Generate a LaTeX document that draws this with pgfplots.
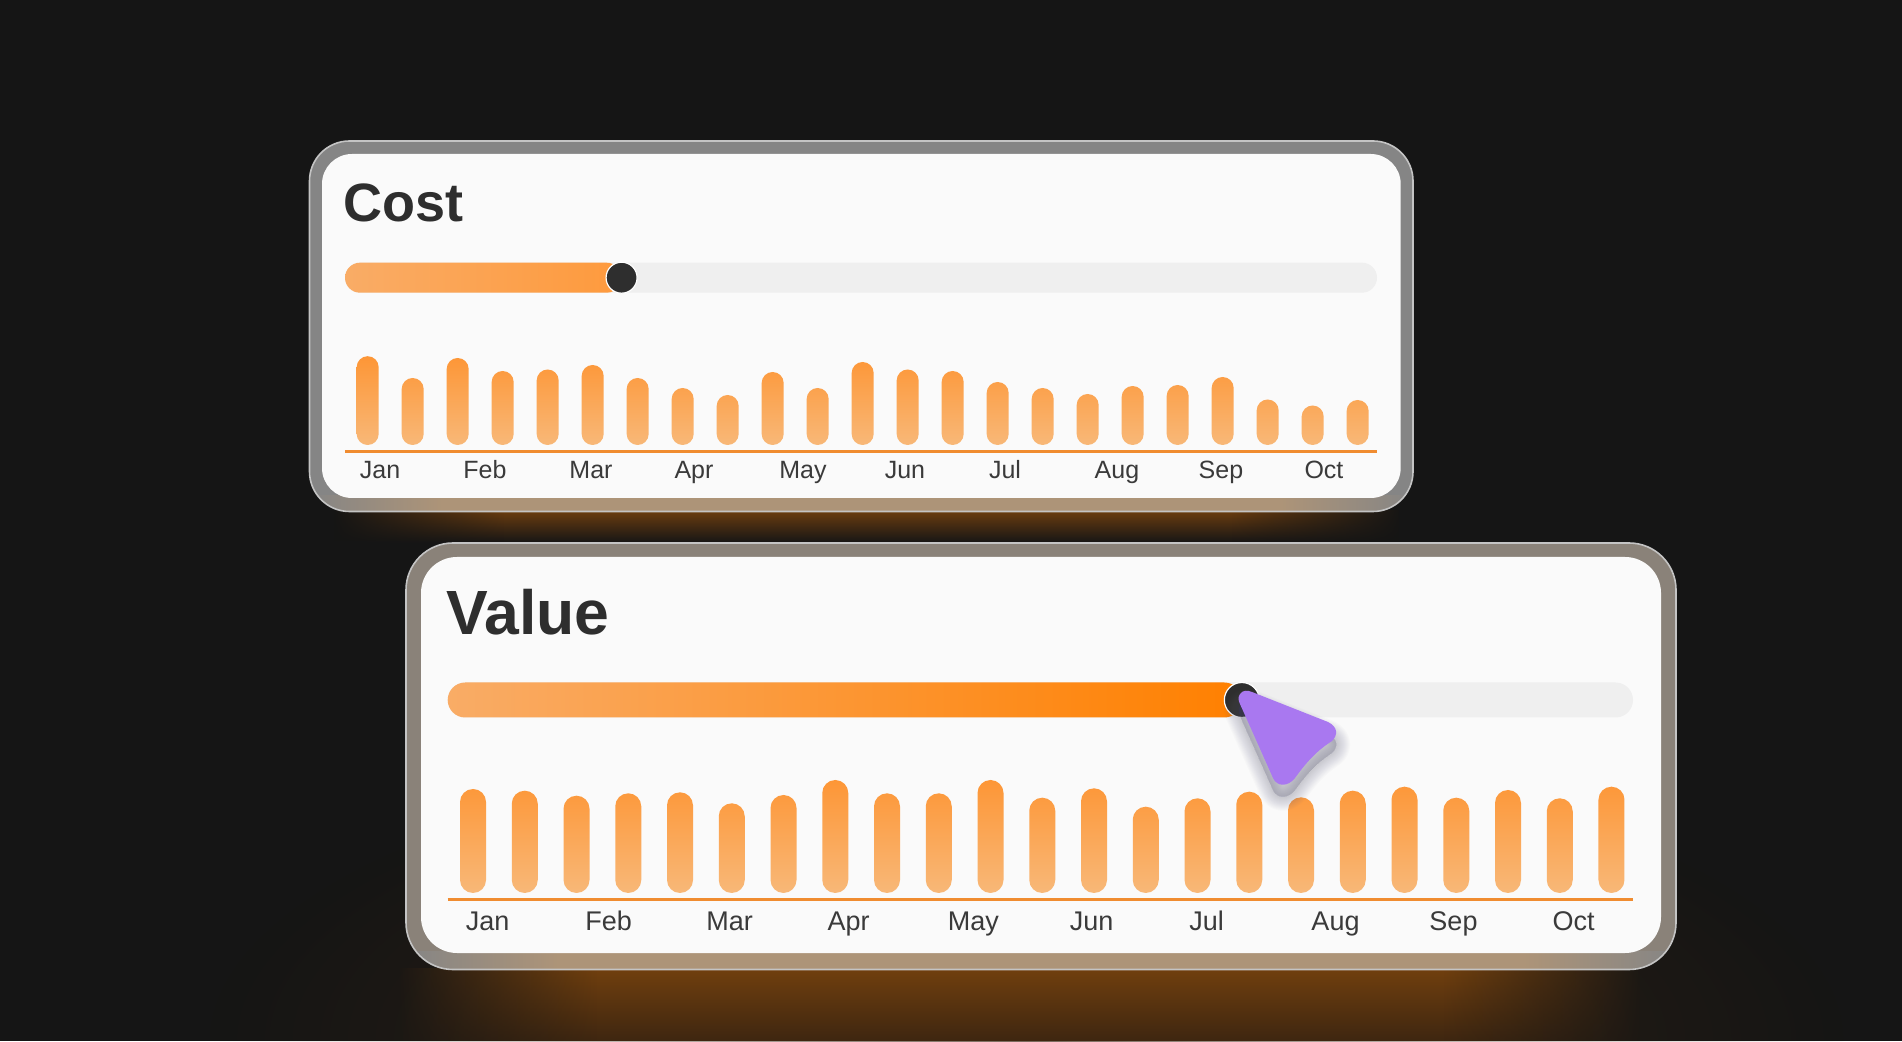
\documentclass[border=0pt]{standalone}
\usepackage{pgfplots}
\usepackage{pgfplotstable}
\usepackage{fontspec}
\setmainfont{Liberation Sans}
\pgfplotsset{compat=1.18}
\usetikzlibrary{fadings}
\definecolor{bg}{HTML}{151515}
\definecolor{band}{HTML}{858585}
\definecolor{rim}{HTML}{C4C4C4}
\definecolor{cardw}{HTML}{FAFAFA}
\definecolor{ink}{HTML}{2E2E2E}
\definecolor{tickink}{HTML}{3A3A3A}
\definecolor{rule}{HTML}{F08C30}
\definecolor{track}{HTML}{EFEFEF}
\definecolor{bartop}{HTML}{FD9636}
\definecolor{barbot}{HTML}{F8B878}
\definecolor{sliderleft}{HTML}{F9AC66}
\definecolor{cursor}{HTML}{A978F0}
\definecolor{glowA}{HTML}{6A3C0F}
\definecolor{glowB}{HTML}{703F0E}
\definecolor{glowC}{HTML}{3E2610}
\definecolor{glowD}{HTML}{4A2D14}
\definecolor{tan}{HTML}{AD9478}
\definecolor{topband}{HTML}{8A8279}
\definecolor{costend}{HTML}{FE9A3D}
\definecolor{valmid}{HTML}{FD9434}
\definecolor{valend}{HTML}{FF8000}
\definecolor{shadowc}{HTML}{60607A}
\pgfdeclarehorizontalshading{plateaushade}{100bp}{color(0bp)=(pgftransparent!100); color(25bp)=(pgftransparent!100); color(33bp)=(pgftransparent!0); color(67bp)=(pgftransparent!0); color(75bp)=(pgftransparent!100); color(100bp)=(pgftransparent!100)}
\pgfdeclarefading{plateau}{\pgfuseshading{plateaushade}}
\pgfdeclarehorizontalshading{bandshade}{100bp}{color(0bp)=(band); color(25bp)=(band); color(31bp)=(tan); color(69bp)=(tan); color(75bp)=(band); color(100bp)=(band)}
\tikzfading[name=softglow, inner color=transparent!30, outer color=transparent!100]
\pgfplotstableread{
i h
0 88.8
1 67
2 87
3 74
4 75.5
5 80
6 67
7 57
8 50
9 73
10 57
11 83
12 75.5
13 74
14 63
15 57
16 51
17 59
18 60
19 68
20 45.5
21 39.5
22 45
}\costdata
\pgfplotstableread{
i h
0 104
1 102.3
2 97.3
3 99.7
4 100.7
5 89.7
6 98
7 113
8 99.7
9 99.7
10 113
11 95.3
12 104.7
13 86.3
14 94.7
15 101.3
16 95.7
17 102.3
18 106.3
19 95.3
20 103
21 94.7
22 106.3
}\valuedata
\pgfplotsset{
  baraxis/.style={
    scale only axis, clip=false,
    axis y line=none, axis x line=bottom,
    x axis line style={-, draw=rule, line width=3.6pt},
    xtick style={draw=none}, major tick length=0pt,
    ymin=-6.7, ymax=130,
    height=136.7pt,
  },
  slideraxis/.style={
    scale only axis, clip=false, hide axis,
    xmin=0, xmax=100, ymin=-1, ymax=1,
    width=#1,
  },
}
\begin{document}
\begin{tikzpicture}[x=1pt,y=1pt]
\useasboundingbox (0,0) rectangle (1902,1041);
\fill[bg] (0,0) rectangle (1902,1041);
% glows
\fill[glowD!80!bg, path fading=softglow] (1030,0) ellipse (820 and 300);
\shade[top color=glowB, bottom color=glowC, path fading=plateau, fit fading=true] (400,0) rectangle (1640,72);
\shade[top color=glowA, bottom color=bg, path fading=plateau, fit fading=true] (335,498) rectangle (1400,530);
% Cost card
\fill[band, rounded corners=40pt] (309.5,529.5) rectangle (1413,900);
\begin{scope}
\clip[rounded corners=40pt] (309.5,529.5) rectangle (1413,900);
\shade[shading=bandshade] (309.5,529.5) rectangle (1413,545);
\end{scope}
\draw[rim, line width=1.6pt, rounded corners=40pt] (309.5,529.5) rectangle (1413,900);
\fill[cardw, rounded corners=30pt] (322,543) rectangle (1400.7,887);
% Value card
\fill[topband, rounded corners=47pt] (406,71.5) rectangle (1676,498);
\begin{scope}
\clip[rounded corners=47pt] (406,71.5) rectangle (1676,498);
\shade[shading=bandshade] (406,71.5) rectangle (1676,90);
\end{scope}
\draw[rim, line width=1.6pt, rounded corners=47pt] (406,71.5) rectangle (1676,498);
\fill[cardw, rounded corners=36pt] (421,88) rectangle (1661,484);
% titles
\node[anchor=base west, inner sep=0pt, text=ink, font=\fontsize{54}{60}\selectfont\bfseries] at (343,819.3) {Cost};
\node[anchor=base west, inner sep=0pt, text=ink, font=\fontsize{62.5}{66}\selectfont\bfseries] at (446,406) {Value};

% Cost slider
\begin{axis}[slideraxis=1032pt, at={(345pt,748.3pt)}, anchor=south west, height=30pt]
\addplot[xbar, bar width=30pt, bar shift=0pt, draw=none, fill=track, rounded corners=15pt] coordinates {(100,0)};
\addplot[xbar, bar width=30pt, bar shift=0pt, draw=none, shade, left color=sliderleft, right color=costend, rounded corners=15pt] coordinates {(26.8,0)};
\addplot[only marks, mark=*, mark size=15.5pt, mark options={fill=ink, draw=white, line width=1.2pt}] coordinates {(26.8,0)};
\end{axis}
% Cost bars
\begin{axis}[baraxis, at={(345pt,589.3pt)}, anchor=south west, width=1032pt,
  xmin=-0.504, xmax=22.43,
  xtick={0.274,2.607,4.962,7.251,9.673,11.94,14.162,16.651,18.962,21.251},
  xticklabels={Jan,Feb,Mar,Apr,May,Jun,Jul,Aug,Sep,Oct},
  x tick label style={anchor=base, yshift=-26.6pt, text=tickink, font=\fontsize{25}{28}\selectfont}]
\addplot[ybar, bar width=22pt, bar shift=0pt, draw=none, shade, top color=bartop, bottom color=barbot, rounded corners=11pt] table[x=i,y=h] {\costdata};
\end{axis}

% Value slider
\begin{axis}[slideraxis=1185.3pt, at={(447.7pt,323.5pt)}, anchor=south west, height=35pt]
\addplot[xbar, bar width=35pt, bar shift=0pt, draw=none, fill=track, rounded corners=17.5pt] coordinates {(100,0)};
\addplot[xbar, bar width=35pt, bar shift=0pt, draw=none, shade, left color=sliderleft, middle color=valmid, right color=valend, rounded corners=17.5pt] coordinates {(67,0)};
\addplot[only marks, mark=*, mark size=17.5pt, mark options={fill=ink, draw=white, line width=1.2pt}] coordinates {(67,0)};
\end{axis}
% Value bars
\begin{axis}[baraxis, at={(447.7pt,141.3pt)}, anchor=south west, width=1185.3pt,
  xmin=-0.489, xmax=22.416,
  xtick={0.284,2.622,4.96,7.259,9.671,11.952,14.174,16.667,18.947,21.266},
  xticklabels={Jan,Feb,Mar,Apr,May,Jun,Jul,Aug,Sep,Oct},
  x tick label style={anchor=base, yshift=-31.3pt, text=tickink, font=\fontsize{27}{30}\selectfont}]
\addplot[ybar, bar width=26pt, bar shift=0pt, draw=none, shade, top color=bartop, bottom color=barbot, rounded corners=13pt] table[x=i,y=h] {\valuedata};
\end{axis}

% cursor
\begin{scope}[shift={(0,1041)}, yscale=-1]
\def\cursorpath{(1240,694) .. controls (1243,690) and (1247,690) .. (1252,692) -- (1328,722) .. controls (1338,727) and (1338,735) .. (1332,741) .. controls (1318,750) and (1308,760) .. (1295,778) .. controls (1288,787) and (1277,787) .. (1273,778) -- (1240,704) .. controls (1238,700) and (1238,697) .. (1240,694) -- cycle}
\begin{scope}[yshift=12pt]
\foreach \w in {2,4,...,28}{
  \fill[shadowc, fill opacity=0.02, draw=shadowc, draw opacity=0.025, line width=\w pt, line join=round] \cursorpath;
}
\end{scope}
\fill[cursor] \cursorpath;
\end{scope}
\end{tikzpicture}
\end{document}
